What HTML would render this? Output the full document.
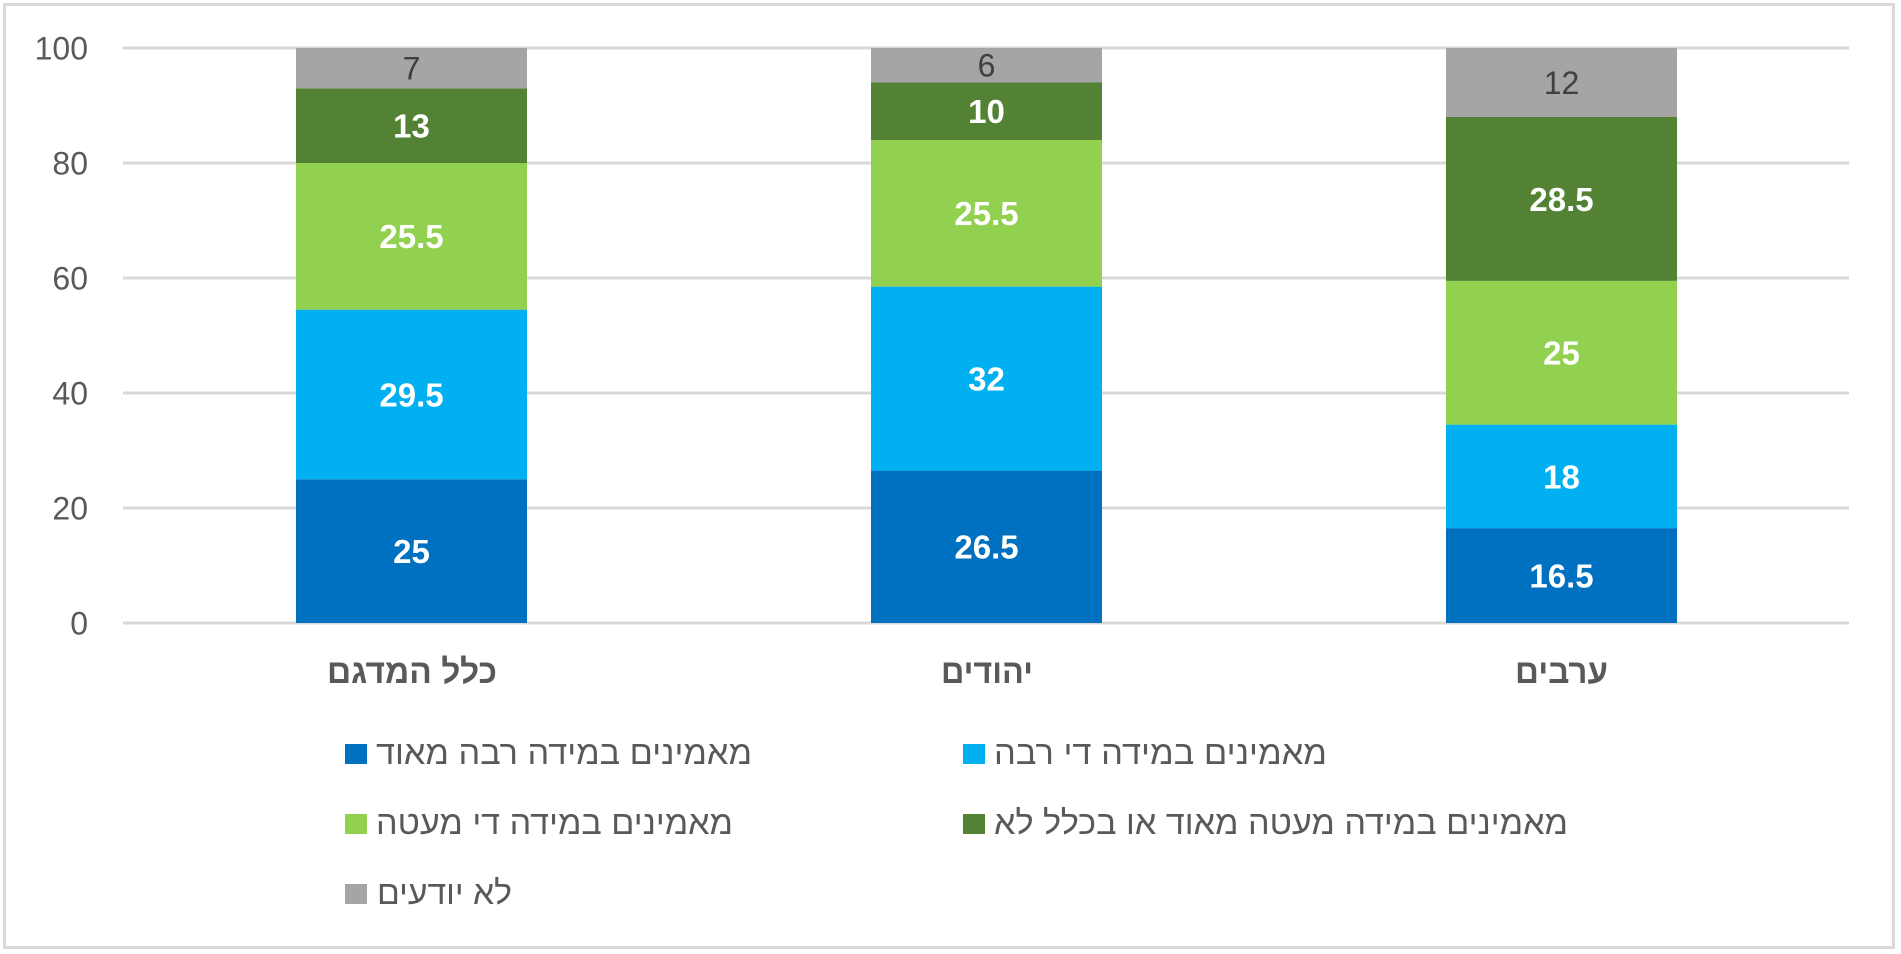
<!DOCTYPE html>
<html lang="he">
<head>
<meta charset="utf-8">
<style>
  html, body { margin: 0; padding: 0; background: #ffffff; }
  body { width: 1901px; height: 954px; overflow: hidden; }
  svg { display: block; }
  text { font-family: "Liberation Sans", "Noto Sans CJK JP", sans-serif; }
</style>
</head>
<body>
<svg width="1901" height="954" viewBox="0 0 1901 954" xmlns="http://www.w3.org/2000/svg">
  <rect x="0" y="0" width="1901" height="954" fill="#ffffff"/>
  <rect x="4.5" y="4.5" width="1889" height="943" fill="none" stroke="#d9d9d9" stroke-width="3"/>

  <!-- gridlines -->
  <g stroke="#d9d9d9" stroke-width="3">
    <line x1="123" y1="48" x2="1849" y2="48"/>
    <line x1="123" y1="163" x2="1849" y2="163"/>
    <line x1="123" y1="278" x2="1849" y2="278"/>
    <line x1="123" y1="393" x2="1849" y2="393"/>
    <line x1="123" y1="508" x2="1849" y2="508"/>
    <line x1="123" y1="623" x2="1849" y2="623"/>
  </g>

  <!-- y tick labels -->
  <g fill="#595959" font-size="32" text-anchor="end">
    <text x="88" y="59.5">100</text>
    <text x="88" y="174.5">80</text>
    <text x="88" y="289.5">60</text>
    <text x="88" y="404.5">40</text>
    <text x="88" y="519.5">20</text>
    <text x="88" y="634.5">0</text>
  </g>

  <!-- bar 1 -->
  <rect x="296" y="479.25" width="231" height="143.75" fill="#0070C0"/>
  <rect x="296" y="309.625" width="231" height="169.625" fill="#00B0F0"/>
  <rect x="296" y="163" width="231" height="146.625" fill="#92D050"/>
  <rect x="296" y="88.25" width="231" height="74.75" fill="#548235"/>
  <rect x="296" y="48" width="231" height="40.25" fill="#A5A5A5"/>

  <!-- bar 2 -->
  <rect x="871" y="470.625" width="231" height="152.375" fill="#0070C0"/>
  <rect x="871" y="286.625" width="231" height="184" fill="#00B0F0"/>
  <rect x="871" y="140" width="231" height="146.625" fill="#92D050"/>
  <rect x="871" y="82.5" width="231" height="57.5" fill="#548235"/>
  <rect x="871" y="48" width="231" height="34.5" fill="#A5A5A5"/>

  <!-- bar 3 -->
  <rect x="1446" y="528.125" width="231" height="94.875" fill="#0070C0"/>
  <rect x="1446" y="424.625" width="231" height="103.5" fill="#00B0F0"/>
  <rect x="1446" y="280.875" width="231" height="143.75" fill="#92D050"/>
  <rect x="1446" y="117" width="231" height="163.875" fill="#548235"/>
  <rect x="1446" y="48" width="231" height="69" fill="#A5A5A5"/>

  <!-- data labels (white bold) -->
  <g fill="#ffffff" font-size="33" font-weight="bold" text-anchor="middle">
    <text x="411.5" y="563">25</text>
    <text x="411.5" y="406.3">29.5</text>
    <text x="411.5" y="248.2">25.5</text>
    <text x="411.5" y="137.5">13</text>

    <text x="986.5" y="558.7">26.5</text>
    <text x="986.5" y="390.5">32</text>
    <text x="986.5" y="225.2">25.5</text>
    <text x="986.5" y="123.1">10</text>

    <text x="1561.5" y="587.4">16.5</text>
    <text x="1561.5" y="488.3">18</text>
    <text x="1561.5" y="364.6">25</text>
    <text x="1561.5" y="210.8">28.5</text>
  </g>
  <!-- gray segment labels -->
  <g fill="#404040" font-size="32" text-anchor="middle">
    <text x="411.5" y="79.6">7</text>
    <text x="986.5" y="76.7">6</text>
    <text x="1561.5" y="94">12</text>
  </g>

  <!-- category labels -->
  <g fill="#595959" font-size="34" font-weight="bold" text-anchor="middle">
    <text x="412" y="683" textLength="170" lengthAdjust="spacingAndGlyphs">כלל המדגם</text>
    <text x="987" y="683" textLength="92" lengthAdjust="spacingAndGlyphs">יהודים</text>
    <text x="1561.5" y="683" textLength="93" lengthAdjust="spacingAndGlyphs">ערבים</text>
  </g>

  <!-- legend -->
  <rect x="345" y="744" width="22" height="20" fill="#0070C0"/>
  <rect x="963" y="744" width="22" height="20" fill="#00B0F0"/>
  <rect x="345" y="814" width="22" height="20" fill="#92D050"/>
  <rect x="963" y="814" width="22" height="20" fill="#548235"/>
  <rect x="345" y="884" width="22" height="20" fill="#A5A5A5"/>
  <g fill="#595959" font-size="33" text-anchor="start">
    <text x="376" y="764" textLength="376" lengthAdjust="spacingAndGlyphs">מאמינים במידה רבה מאוד</text>
    <text x="994" y="764" textLength="333" lengthAdjust="spacingAndGlyphs">מאמינים במידה די רבה</text>
    <text x="376" y="834" textLength="357" lengthAdjust="spacingAndGlyphs">מאמינים במידה די מעטה</text>
    <text x="994" y="834" textLength="574" lengthAdjust="spacingAndGlyphs">מאמינים במידה מעטה מאוד או בכלל לא</text>
    <text x="377" y="904" textLength="135" lengthAdjust="spacingAndGlyphs">לא יודעים</text>
  </g>
</svg>
</body>
</html>
